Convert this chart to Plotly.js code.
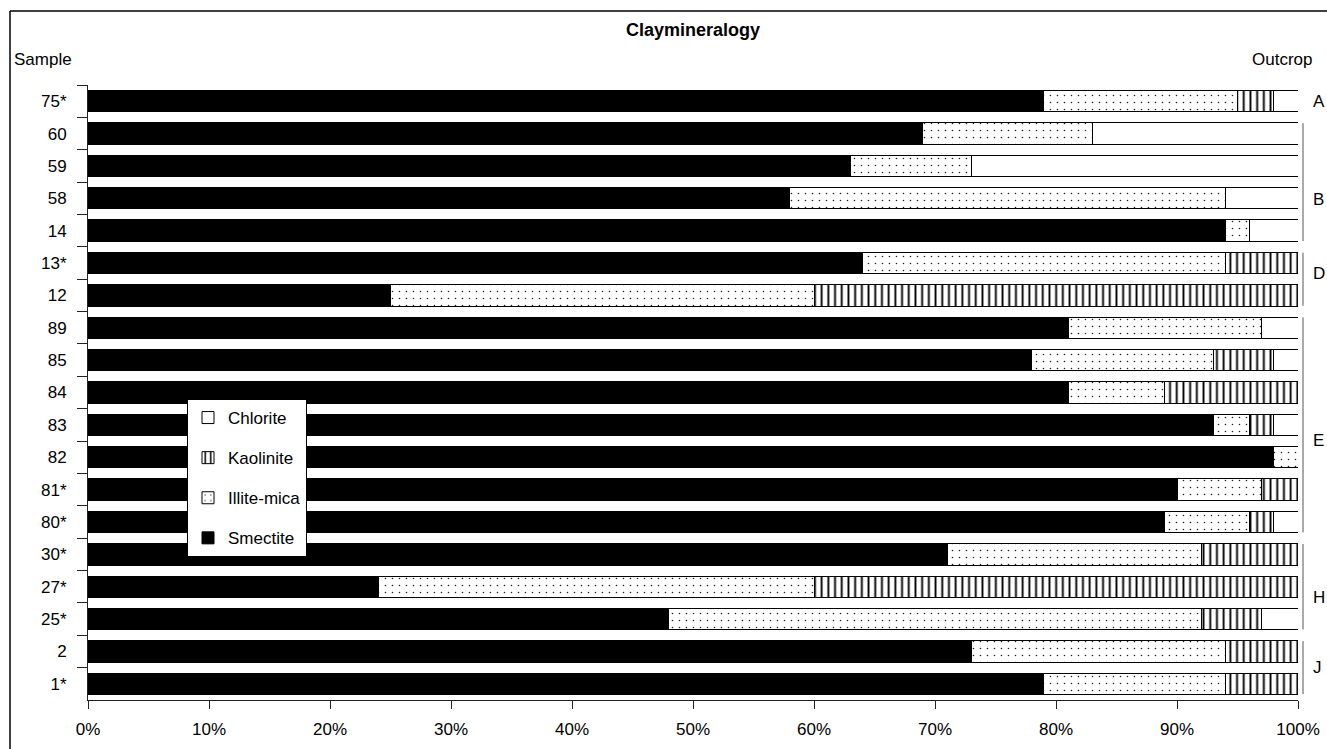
<!DOCTYPE html>
<html>
<head>
<meta charset="utf-8">
<script src="https://cdn.plot.ly/plotly-3.0.1.min.js"></script>
<style>html,body{margin:0;padding:0;background:#fff;}#chart{width:1327px;height:749px;}</style>
</head>
<body>
<div id="chart"></div>
<script>
const samples   = ["75*","60","59","58","14","13*","12","89","85","84","83","82","81*","80*","30*","27*","25*","2","1*"];
const smectite  = [79, 69, 63, 58, 94, 64, 25, 81, 78, 81, 93, 98, 90, 89, 71, 24, 48, 73, 79];
const illite    = [16, 14, 10, 36,  2, 30, 35, 16, 15,  8,  3,  2,  7,  7, 21, 36, 44, 21, 15];
const kaolinite = [ 3,  0,  0,  0,  0,  6, 40,  0,  5, 11,  2,  0,  3,  2,  8, 40,  5,  6,  6];
const chlorite  = [ 2, 17, 27,  6,  4,  0,  0,  3,  2,  0,  2,  0,  0,  2,  0,  0,  3,  0,  0];
const xTicks = [0,10,20,30,40,50,60,70,80,90,100];
const outcrops = [
  {label:"A", first:"75*", last:"75*", labelPos:0.0,  bracket:false},
  {label:"B", first:"60",  last:"14",  labelPos:3.05, bracket:true},
  {label:"D", first:"13*", last:"12",  labelPos:5.31, bracket:true},
  {label:"E", first:"89",  last:"80*", labelPos:10.47,bracket:true},
  {label:"H", first:"30*", last:"25*", labelPos:15.32,bracket:true},
  {label:"J", first:"2",   last:"1*",  labelPos:17.51,bracket:true}
];

const FONT = "Liberation Sans, Arial, sans-serif";
const barW = 0.66;
const common = {type:"bar", orientation:"h", y:samples, width:barW, hoverinfo:"x+name", cliponaxis:false};

const traces = [
  Object.assign({}, common, {name:"Smectite", x:smectite, legendgroup:"s", legendrank:4,
    marker:{color:"black", line:{color:"black", width:1}}}),
  Object.assign({}, common, {name:"Illite-mica", x:illite, legendgroup:"i", legendrank:3,
    marker:{color:"white", line:{color:"black", width:1},
      pattern:{shape:".", fgcolor:"#222", bgcolor:"white", size:7, solidity:0.04}}}),
  Object.assign({}, common, {name:"Kaolinite", x:kaolinite, legendgroup:"k", legendrank:2,
    marker:{color:"white", line:{color:"black", width:1},
      pattern:{shape:"|", fgcolor:"black", bgcolor:"white", size:6.7, solidity:0.28}}}),
  Object.assign({}, common, {name:"Chlorite", x:chlorite, legendgroup:"c", legendrank:1,
    marker:{color:"white", line:{color:"black", width:1}}})
];

const W = 1298-88, H = 700-85;
const shapes = [
  {type:"line", xref:"paper", yref:"paper", x0:(10-88)/W, x1:(10-88)/W, y0:-0.2, y1:(700-11)/H, line:{color:"black", width:1.5}},
  {type:"line", xref:"paper", yref:"paper", x0:(10-88)/W, x1:1.1, y0:(700-11)/H, y1:(700-11)/H, line:{color:"black", width:1.5}}
];
const annotations = [
  {text:"Sample", xref:"paper", yref:"paper", x:(12-88)/W, y:(700-60)/H, xanchor:"left", yanchor:"middle", showarrow:false, font:{family:FONT, size:17, color:"black"}},
  {text:"Outcrop", xref:"paper", yref:"paper", x:(1250-88)/W, y:(700-60)/H, xanchor:"left", yanchor:"middle", showarrow:false, font:{family:FONT, size:17, color:"black"}}
];
outcrops.forEach(o => {
  const i0 = samples.indexOf(o.first), i1 = samples.indexOf(o.last);
  if (o.bracket) {
    shapes.push({type:"line", xref:"paper", yref:"y", x0:(1303-88)/W, x1:(1303-88)/W, y0:i0-0.32, y1:i1+0.32, line:{color:"#555", width:1}});
  }
  annotations.push({text:o.label, xref:"paper", yref:"y", x:(1311-88)/W, y:o.labelPos, xanchor:"left", yanchor:"middle", showarrow:false, font:{family:FONT, size:17, color:"black"}});
});

const layout = {
  width:1327, height:749,
  margin:{l:88, r:29, t:85, b:49, pad:0},
  paper_bgcolor:"white", plot_bgcolor:"white",
  barmode:"stack", bargap:0.34,
  font:{family:FONT, size:17, color:"black"},
  title:{text:"<b>Claymineralogy</b>", x:0.5, xref:"paper", xanchor:"center", y:1-30/749, yref:"container", yanchor:"middle", font:{family:FONT, size:18, color:"black"}},
  xaxis:{range:[0,100], tickvals:xTicks, ticktext:xTicks.map(v=>v+"%"), showgrid:false, zeroline:false,
    showline:true, linecolor:"#222", linewidth:1, ticks:"outside", ticklen:8, tickcolor:"#222", ticklabelstandoff:6,
    tickfont:{family:FONT, size:17, color:"black"}, fixedrange:true},
  yaxis:{type:"category", categoryorder:"array", categoryarray:samples, autorange:"reversed", showgrid:false, zeroline:false,
    showline:true, linecolor:"#222", linewidth:1, ticks:"outside", ticklen:10, tickcolor:"#222", tickson:"boundaries", ticklabelstandoff:17,
    tickfont:{family:FONT, size:17, color:"black"}, fixedrange:true},
  legend:{x:(187-88)/W, y:(700-399)/H, xanchor:"left", yanchor:"top", traceorder:"grouped", tracegroupgap:15,
    entrywidth:125, entrywidthmode:"pixels",
    bgcolor:"white", bordercolor:"black", borderwidth:1, font:{family:FONT, size:17, color:"black"}},
  showlegend:true,
  shapes:shapes, annotations:annotations
};

Plotly.newPlot("chart", traces, layout, {staticPlot:true, displayModeBar:false});
</script>
</body>
</html>
